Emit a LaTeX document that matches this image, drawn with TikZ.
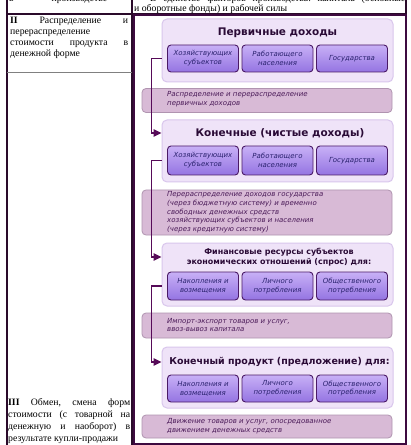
\documentclass[tikz,border=0pt]{standalone}
\usepackage{fontspec}
\setmainfont{Liberation Serif}
\newfontfamily\dv{DejaVu Sans}
\usetikzlibrary{arrows.meta}
\definecolor{tabcol}{HTML}{2A0A2A}
\definecolor{framecol}{HTML}{3E0A40}
\definecolor{bigfill}{HTML}{EFE3F8}
\definecolor{bigdraw}{HTML}{D9C6EC}
\definecolor{stop}{HTML}{C8B0F6}
\definecolor{sbot}{HTML}{9474E2}
\definecolor{sdraw}{HTML}{4A1A66}
\definecolor{stext}{HTML}{2A226E}
\definecolor{bandfill}{HTML}{D8BAD6}
\definecolor{banddraw}{HTML}{B094B0}
\definecolor{bandtext}{HTML}{4A1A58}
\definecolor{titlec}{HTML}{2A0A36}
\definecolor{conncol}{HTML}{560A58}
\begin{document}
\begin{tikzpicture}[x=1bp,y=-1bp,
  bigbox/.style={draw=bigdraw,fill=bigfill,rounded corners=5bp,line width=1bp,minimum width=231bp,inner sep=0},
  sbox/.style={draw=sdraw,line width=0.9bp,rounded corners=3.5bp,top color=stop,bottom color=sbot,
    minimum width=71bp,minimum height=27bp,inner sep=0,align=center,
    font=\dv\itshape\fontsize{7}{9}\selectfont,text=stext},
  band/.style={draw=banddraw,fill=bandfill,rounded corners=4bp,line width=0.8bp,minimum width=250bp,inner sep=0},
  bandtxt/.style={anchor=west,align=left,inner sep=0,font=\dv\itshape\fontsize{7}{8.7}\selectfont,text=bandtext},
  titletxt/.style={inner sep=0,align=center,text=titlec},
  conn/.style={draw=conncol,line width=1.3bp,-{Triangle[length=8bp,width=7.5bp]}},
  tabtxt/.style={anchor=base west,inner sep=0,font=\fontsize{9.8}{11}\selectfont,text=black},
  tabline/.style={draw=tabcol,line width=1.2bp}]
\useasboundingbox (0,0) rectangle (410,445);
\begin{scope}
\clip (0,0) rectangle (410,445);
\fill[white] (0,0) rectangle (410,445);
% table
\draw[tabline] (7,0) -- (7,445);
\draw[tabline] (132,0) -- (132,445);
\draw[tabline] (406,0) -- (406,445);
\draw[tabline] (7,14) -- (406,14);
\draw[gray,line width=0.8bp] (7,72) -- (132,72);
\draw[draw=framecol,line width=2bp] (134,15) rectangle (406,444);
% table texts
\node[tabtxt] (l0) at (9,1.5) {\hbox to 98bp{в\hfill производстве}};
\node[tabtxt] (r0) at (150,1.5) {\hbox to 255bp{В\hfill единстве\hfill факторов\hfill производства:\hfill капитала\hfill (основные}};
\node[tabtxt] (r1) at (134,11.5) {и оборотные фонды) и рабочей силы};
\node[tabtxt] (l1) at (10,24) {\hbox to 118bp{\textbf{II}\hfill Распределение\hfill и}};
\node[tabtxt] (l2) at (10,35) {перераспределение};
\node[tabtxt] (l3) at (10,46) {\hbox to 118bp{стоимости\hfill продукта\hfill в}};
\node[tabtxt] (l4) at (10,57) {денежной форме};
\node[tabtxt] (m1) at (8,405) {\hbox to 122bp{\textbf{III}\hfill Обмен,\hfill смена\hfill форм}};
\node[tabtxt] (m2) at (8,417) {\hbox to 122bp{стоимости\hfill (с\hfill товарной\hfill на}};
\node[tabtxt] (m3) at (8,429) {\hbox to 122bp{денежную\hfill и\hfill наоборот)\hfill в}};
\node[tabtxt] (m4) at (8,441) {результате купли-продажи};
% box 1
\node[bigbox,minimum height=63bp] (b1) at (277.5,50.5) {};
\node[titletxt,font=\dv\bfseries\fontsize{10.5}{12}\selectfont] (t1) at (277.5,33) {Первичные доходы};
\node[sbox] (s11) at (203,58.5) {Хозяйствующих\\субъектов};
\node[sbox] (s12) at (277.5,58.5) {Работающего\\населения};
\node[sbox] (s13) at (352,58.5) {Государства};
% band 1
\node[band,minimum height=24bp] (a1) at (267,100.5) {};
\node[bandtxt] (at1) at (167,99.5) {Распределение и перераспределение\\первичных доходов};
% box 2
\node[bigbox,minimum height=62bp] (b2) at (277.5,151) {};
\node[titletxt,font=\dv\bfseries\fontsize{10.5}{12}\selectfont] (t2) at (280,133) {Конечные (чистые доходы)};
\node[sbox,minimum height=29bp] (s21) at (203,160.5) {Хозяйствующих\\субъектов};
\node[sbox,minimum height=29bp] (s22) at (277.5,160.5) {Работающего\\населения};
\node[sbox,minimum height=29bp] (s23) at (352,160.5) {Государства};
% band 2
\node[band,minimum height=45bp] (a2) at (267,212.5) {};
\node[bandtxt] (at2) at (167,212.5) {Перераспределение доходов государства\\(через бюджетную систему) и временно\\свободных денежных средств\\хозяйствующих субъектов и населения\\(через кредитную систему)};
% box 3
\node[bigbox,minimum height=63bp] (b3) at (277.5,274.5) {};
\node[titletxt,font=\dv\bfseries\fontsize{8}{10}\selectfont] (t3) at (279,257) {Финансовые ресурсы субъектов\\экономических отношений (спрос) для:};
\node[sbox,minimum height=28bp] (s31) at (203,286) {Накопления и\\возмещения};
\node[sbox,minimum height=28bp] (s32) at (277.5,286) {Личного\\потребления};
\node[sbox,minimum height=28bp] (s33) at (352,286) {Общественного\\потребления};
% band 3
\node[band,minimum height=25bp] (a3) at (267,325.5) {};
\node[bandtxt] (at3) at (167,325) {Импорт-экспорт товаров и услуг,\\ввоз-вывоз капитала};
% box 4
\node[bigbox,minimum height=61bp] (b4) at (277.5,377.5) {};
\node[titletxt,font=\dv\bfseries\fontsize{9.5}{11}\selectfont] (t4) at (279.5,362) {Конечный продукт (предложение) для:};
\node[sbox] (s41) at (203,388.5) {Накопления и\\возмещения};
\node[sbox] (s42) at (277.5,388.5) {Личного\\потребления};
\node[sbox] (s43) at (352,388.5) {Общественного\\потребления};
% band 4
\node[band,minimum height=23bp] (a4) at (267,426.5) {};
\node[bandtxt] (at4) at (167,426) {Движение товаров и услуг, опосредованное\\движением денежных средств};
% connectors
\draw[conn] (b1.west |- s11) -- ++(-10,0) |- (b2.west |- t2);
\draw[conn] (b2.west |- s21) -- ++(-10,0) |- (b3.west |- t3);
\draw[conn] (b3.west |- s31) -- ++(-10,0) |- (b4.west |- t4);
\end{scope}
\end{tikzpicture}
\end{document}
